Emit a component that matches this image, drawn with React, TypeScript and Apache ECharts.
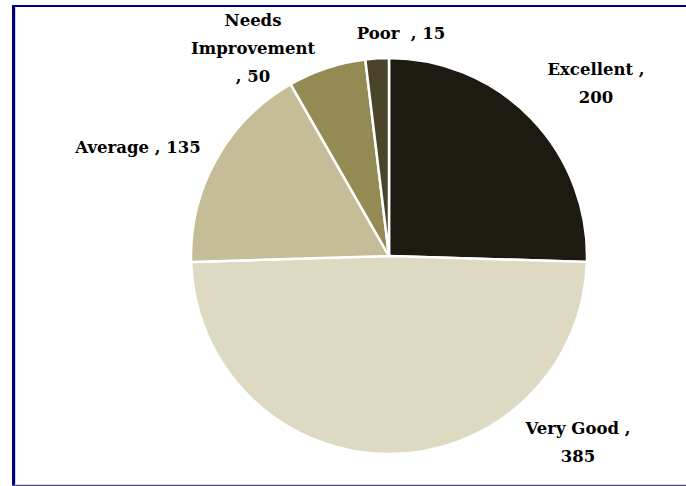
import React, { useEffect, useRef } from "react";
import * as echarts from "echarts";

const categories = ["Excellent", "Very Good", "Average", "Needs Improvement", "Poor"];
const values = [200, 385, 135, 50, 15];
const labelTexts = ["Excellent ,\n200", "Very Good ,\n385", "Average , 135", "Needs\nImprovement\n, 50", "Poor  , 15"];
const colors = ["#1d1b11", "#ddd9c3", "#c4bd97", "#948a54", "#4a452a"];
const labelAnchors: [number, number][] = [
  [596, 83],
  [578, 442],
  [138, 147],
  [253, 48],
  [401, 33],
];

export default function App() {
  const ref = useRef<HTMLDivElement>(null);
  useEffect(() => {
    document.body.style.margin = "0";
    const chart = echarts.init(ref.current!, null, { renderer: "svg" });
    chart.setOption({
      animation: false,
      backgroundColor: "#ffffff",
      graphic: [
        { type: "line", shape: { x1: 12, y1: 6, x2: 700, y2: 6 }, style: { stroke: "#000080", lineWidth: 2 } },
        { type: "line", shape: { x1: 13.5, y1: 5, x2: 13.5, y2: 486 }, style: { stroke: "#000080", lineWidth: 3 } },
        { type: "line", shape: { x1: 15.5, y1: 7, x2: 15.5, y2: 484 }, style: { stroke: "#d4d4dc", lineWidth: 1 } },
        { type: "line", shape: { x1: 12, y1: 485.5, x2: 700, y2: 485.5 }, style: { stroke: "#4b4b8f", lineWidth: 1.5 } },
      ],
      series: [
        {
          type: "pie",
          center: [389, 256],
          radius: 198,
          startAngle: 90,
          clockwise: true,
          itemStyle: { borderColor: "#ffffff", borderWidth: 2.5 },
          label: {
            show: true,
            position: "outside",
            formatter: (p: any) => labelTexts[p.dataIndex],
            fontFamily: "DejaVu Serif",
            fontWeight: "bold",
            fontSize: 16.5,
            lineHeight: 28,
            color: "#000000",
            align: "center",
          },
          labelLine: { show: false },
          labelLayout: (p: any) => ({
            x: labelAnchors[p.dataIndex][0],
            y: labelAnchors[p.dataIndex][1],
            align: "center",
            verticalAlign: "middle",
          }),
          emphasis: { disabled: true },
          data: categories.map((c, i) => ({ name: c, value: values[i], itemStyle: { color: colors[i] } })),
        },
      ],
    });
    return () => chart.dispose();
  }, []);
  return <div ref={ref} style={{ width: 686, height: 486, position: "absolute", left: 0, top: 0 }} />;
}
